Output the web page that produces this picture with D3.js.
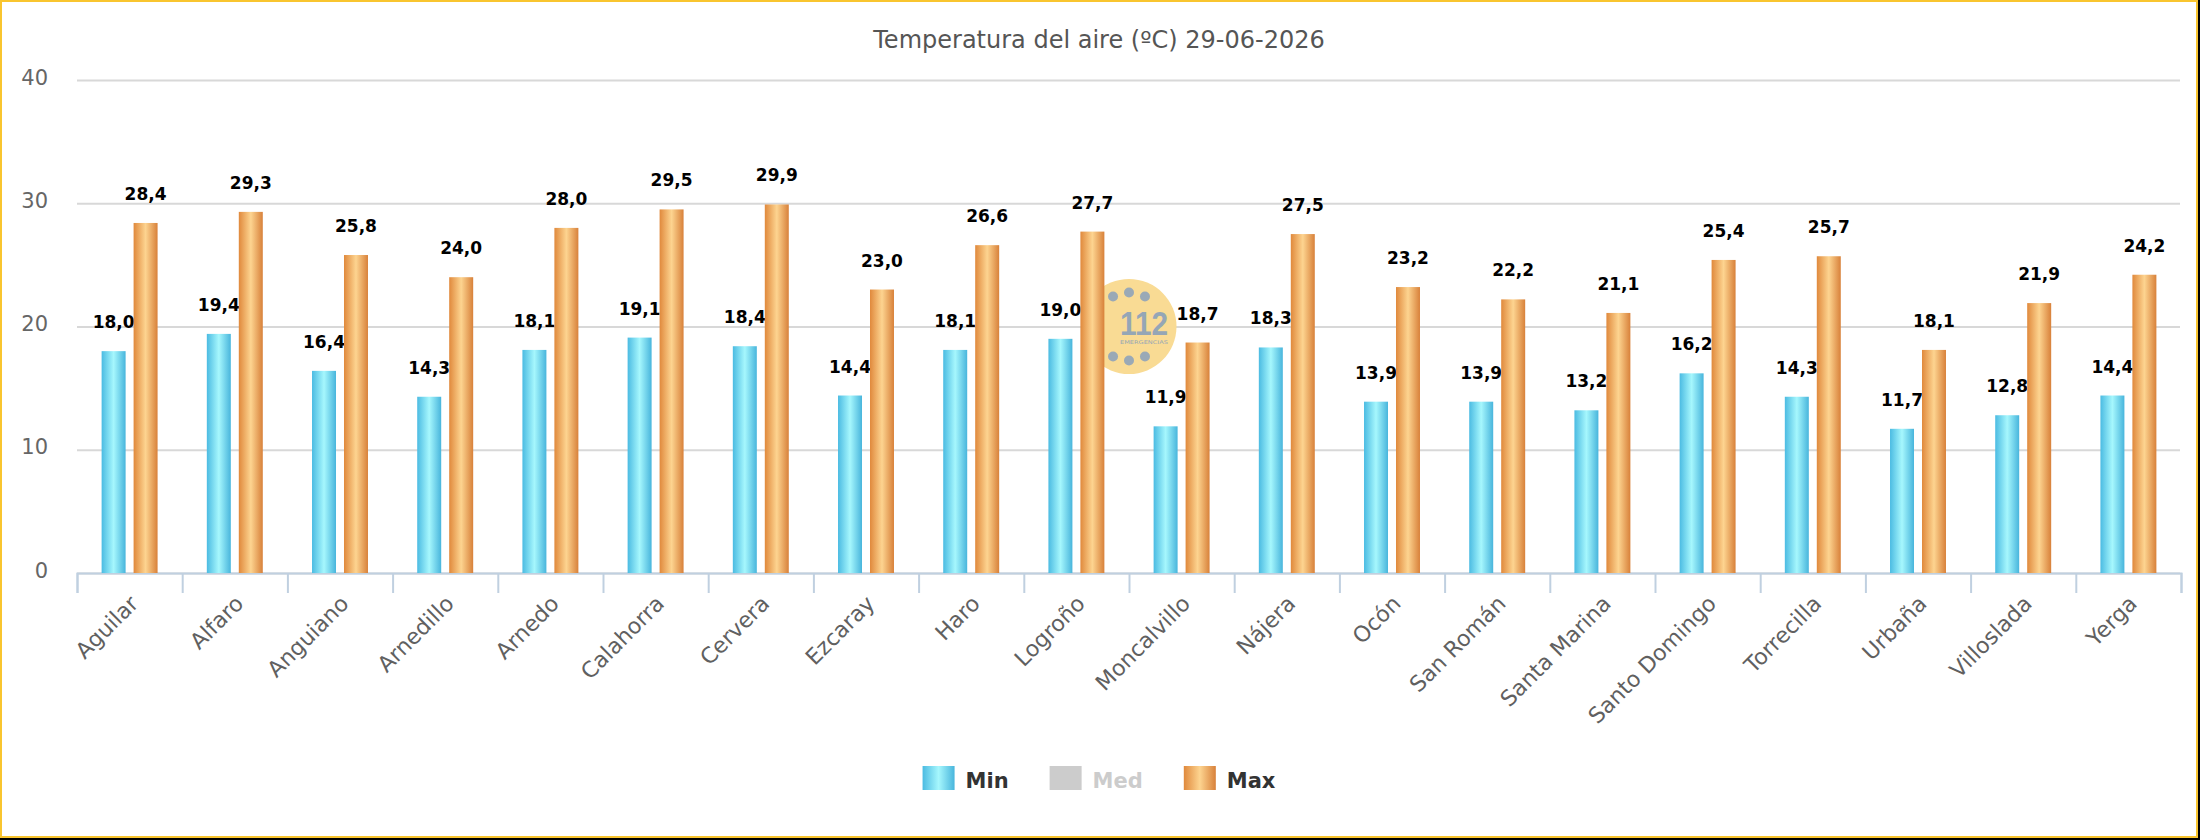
<!DOCTYPE html>
<html>
<head>
<meta charset="utf-8">
<script src="https://cdn.jsdelivr.net/npm/d3@7"></script>
<style>
  html, body { margin: 0; padding: 0; background: #000; }
  svg { display: block; }
</style>
</head>
<body>
<div id="chart"></div>
<script>
// Estaciones y temperaturas del aire (ºC)
const categories = ['Aguilar', 'Alfaro', 'Anguiano', 'Arnedillo', 'Arnedo', 'Calahorra', 'Cervera',
  'Ezcaray', 'Haro', 'Logroño', 'Moncalvillo', 'Nájera', 'Ocón', 'San Román', 'Santa Marina',
  'Santo Domingo', 'Torrecilla', 'Urbaña', 'Villoslada', 'Yerga'];
const minValues = [18.0, 19.4, 16.4, 14.3, 18.1, 19.1, 18.4, 14.4, 18.1, 19.0,
  11.9, 18.3, 13.9, 13.9, 13.2, 16.2, 14.3, 11.7, 12.8, 14.4];
const maxValues = [28.4, 29.3, 25.8, 24.0, 28.0, 29.5, 29.9, 23.0, 26.6, 27.7,
  18.7, 27.5, 23.2, 22.2, 21.1, 25.4, 25.7, 18.1, 21.9, 24.2];
const seriesNames = ['Min', 'Med', 'Max'];
const visibleSeries = ['Min', 'Max'];
const yTicks = [0, 10, 20, 30, 40];
const title = 'Temperatura del aire (ºC) 29-06-2026';

const width = 2198, height = 838;
const margin = {top: 80, right: 17, bottom: 265, left: 77};

const svg = d3.select('#chart').append('svg')
  .attr('width', width)
  .attr('height', height);

// gradientes de las barras
const defs = svg.append('defs');
function gradient(id, stops) {
  const g = defs.append('linearGradient').attr('id', id)
    .attr('x1', 0).attr('x2', 1).attr('y1', 0).attr('y2', 0);
  stops.forEach(s => g.append('stop').attr('offset', s[0]).attr('stop-color', s[1]));
}
gradient('gMin', [[0, '#4bbbe2'], [0.5, '#a6f7fd'], [1, '#48b5dc']]);
gradient('gMax', [[0, '#e0893c'], [0.5, '#fdd490'], [1, '#d8813a']]);
const fills = {Min: 'url(#gMin)', Med: '#cccccc', Max: 'url(#gMax)'};

// fondo y borde
svg.append('rect')
  .attr('x', 1).attr('y', 1)
  .attr('width', width - 2).attr('height', height - 2)
  .attr('fill', '#fff')
  .attr('stroke', '#f9c52f')
  .attr('stroke-width', 2);

// escalas
const x = d3.scaleBand()
  .domain(categories)
  .range([margin.left, width - margin.right])
  .padding(0);
const xInner = d3.scaleBand()
  .domain(visibleSeries)
  .range([0, x.bandwidth()])
  .paddingInner(0.25)
  .paddingOuter(0.77);
const y = d3.scaleLinear()
  .domain([0, 40])
  .range([height - margin.bottom, margin.top]);

const fmt = d3.formatLocale({decimal: ',', thousands: '.', grouping: [3], currency: ['', '€']}).format('.1f');

// título
svg.append('text')
  .attr('x', width / 2)
  .attr('y', 48)
  .attr('text-anchor', 'middle')
  .style('font-family', 'DejaVu Sans')
  .style('font-size', '24px')
  .style('fill', '#555')
  .text(title);

// eje Y con rejilla
const yAxis = svg.append('g')
  .attr('transform', `translate(${margin.left}, 0)`)
  .call(d3.axisLeft(y).tickValues(yTicks)
    .tickSize(-(width - margin.left - margin.right - 1))
    .tickPadding(29));
yAxis.select('.domain').remove();
yAxis.selectAll('line').attr('stroke', '#d8d8d8').attr('stroke-width', 2);
yAxis.selectAll('text')
  .attr('dy', '0.2em')
  .style('font-family', 'DejaVu Sans')
  .style('font-size', '21px')
  .style('fill', '#666');

// marca de agua 112
const cx = (x.range()[0] + x.range()[1]) / 2;
const cy = (y.range()[0] + y.range()[1]) / 2;
const wm = svg.append('g').attr('transform', `translate(${cx}, ${cy})`);
wm.append('circle').attr('r', 47.5).attr('fill', '#f9db94');
[-118, -90, -62, 62, 90, 118, 152, 180, 208].forEach(a => {
  const r = a * Math.PI / 180;
  wm.append('circle')
    .attr('cx', 34 * Math.cos(r)).attr('cy', 34 * Math.sin(r))
    .attr('r', 5).attr('fill', '#9aa9b6');
});
wm.append('text')
  .attr('x', -9).attr('y', 8)
  .attr('textLength', 48).attr('lengthAdjust', 'spacingAndGlyphs')
  .style('font-family', 'Liberation Sans Narrow, Liberation Sans')
  .style('font-weight', 'bold')
  .style('font-size', '34px')
  .style('fill', '#95a6b6')
  .text('112');
wm.append('text')
  .attr('x', -9).attr('y', 17)
  .attr('textLength', 48).attr('lengthAdjust', 'spacingAndGlyphs')
  .style('font-family', 'DejaVu Sans')
  .style('font-size', '5px')
  .style('fill', '#95a6b6')
  .text('EMERGENCIAS');

// eje X: marcas en los límites de categoría
const xTicks = d3.scaleLinear().domain([0, categories.length]).range(x.range());
const xAxisTicks = svg.append('g')
  .attr('transform', `translate(0, ${y(0)})`)
  .call(d3.axisBottom(xTicks).ticks(categories.length).tickFormat('').tickSize(20));
xAxisTicks.selectAll('line, path').attr('stroke', '#c0d0e0').attr('stroke-width', 2);

// etiquetas de categoría
const xAxis = svg.append('g')
  .attr('transform', `translate(0, ${y(0)})`)
  .call(d3.axisBottom(x).tickSize(0));
xAxis.select('.domain').remove();
xAxis.selectAll('text')
  .attr('x', 0).attr('y', 0).attr('dy', 0)
  .attr('text-anchor', 'end')
  .attr('transform', 'translate(10, 32) rotate(-45)')
  .style('font-family', 'DejaVu Sans')
  .style('font-size', '22px')
  .style('fill', '#606060');

// barras y etiquetas por serie
const seriesData = {Min: minValues, Max: maxValues};
visibleSeries.forEach(name => {
  const vals = seriesData[name];
  const rows = categories.map((c, i) => ({cat: c, v: vals[i]}));
  svg.append('g')
    .selectAll('rect')
    .data(rows)
    .join('rect')
    .attr('x', d => x(d.cat) + xInner(name))
    .attr('y', d => y(d.v))
    .attr('width', xInner.bandwidth())
    .attr('height', d => y(0) - y(d.v))
    .attr('fill', fills[name]);
  svg.append('g')
    .selectAll('text')
    .data(rows)
    .join('text')
    .attr('x', d => x(d.cat) + xInner(name) + xInner.bandwidth() / 2)
    .attr('y', d => y(d.v) - 23)
    .attr('text-anchor', 'middle')
    .style('font-family', 'DejaVu Sans')
    .style('font-weight', 'bold')
    .style('font-size', '17px')
    .style('fill', '#000')
    .text(d => fmt(d.v));
});

// leyenda
const legend = svg.append('g');
let lx = 0;
seriesNames.forEach(name => {
  const item = legend.append('g').attr('transform', `translate(${lx}, 0)`);
  item.append('rect')
    .attr('x', 0).attr('y', 766)
    .attr('width', 32).attr('height', 24)
    .attr('fill', fills[name]);
  const t = item.append('text')
    .attr('x', 43).attr('y', 788)
    .style('font-family', 'DejaVu Sans')
    .style('font-weight', 'bold')
    .style('font-size', '21px')
    .style('fill', visibleSeries.includes(name) ? '#333' : '#cccccc')
    .text(name);
  lx += 43 + t.node().getComputedTextLength() + 41;
});
lx -= 41;
legend.attr('transform', `translate(${(width - lx) / 2}, 0)`);
</script>
</body>
</html>
